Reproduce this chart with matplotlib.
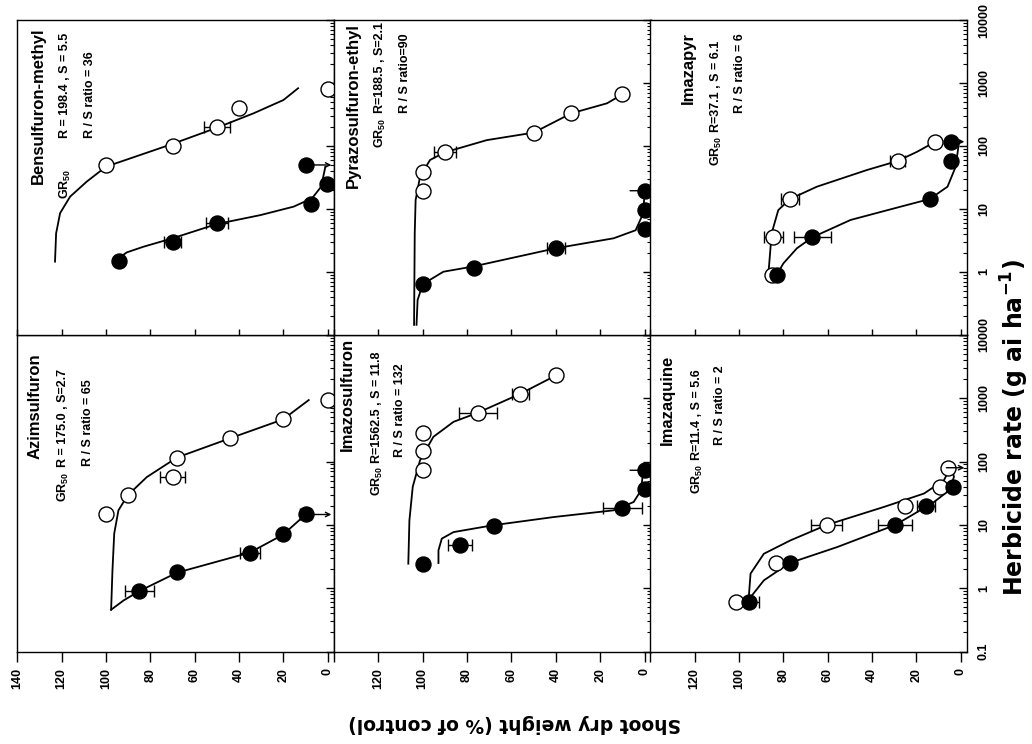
import numpy as np
import matplotlib
matplotlib.use("Agg")
import matplotlib.pyplot as plt
from matplotlib.ticker import LogLocator, NullFormatter, FuncFormatter, FixedLocator

plt.rcParams['font.family'] = ['Liberation Sans', 'DejaVu Sans']
plt.rcParams['font.weight'] = 'bold'
plt.rcParams['mathtext.fontset'] = 'custom'
plt.rcParams['mathtext.rm'] = 'Liberation Sans:bold'
plt.rcParams['mathtext.bf'] = 'Liberation Sans:bold'
plt.rcParams['mathtext.it'] = 'Liberation Sans:bold'
plt.rcParams['mathtext.default'] = 'bf'

# ---------------- data (dose g ai/ha, shoot dry weight % of control) ----------------
herbicides = ["Azimsulfuron", "Bensulfuron-methyl", "Imazosulfuron",
              "Pyrazosulfuron-ethyl", "Imazaquine", "Imazapyr"]
gr50_line1 = ["R = 175.0 , S=2.7", "R = 198.4 , S = 5.5", "R=1562.5 , S = 11.8",
              "R=188.5 , S=2.1", "R=11.4 , S = 5.6", "R=37.1 , S = 6.1"]
gr50_line2 = ["R / S ratio = 65", "R / S ratio = 36", "R / S ratio = 132",
              "R / S ratio=90", "R / S ratio = 2", "R / S ratio = 6"]

# Azimsulfuron
azim_s_dose = [0.9, 1.8, 3.65, 7.3, 14.6]
azim_s_val = [85, 68, 35, 20, 10]
azim_s_err = [6.5, 0, 4.5, 0, 2.5]
azim_r_dose = [14.6, 29.4, 57, 116, 232, 464, 940]
azim_r_val = [100, 90, 70, 68, 44, 20, 0]
azim_r_err = [2, 0, 5.6, 0, 0, 0, 0]
azim_s_fit_dose = [0.457, 0.64, 0.9, 1.76, 3.65, 7.0, 14.6]
azim_s_fit_val = [97.7, 92.1, 85, 68, 35.2, 20.2, 10]
azim_r_fit_dose = [0.457, 1.9, 7.3, 17, 29.4, 57, 116, 232, 464, 938]
azim_r_fit_val = [97.7, 97.1, 96.3, 94.4, 90.2, 81.6, 68, 44.3, 20.2, 8.6]
azim_field_rate = 14.6

# Bensulfuron-methyl
bens_s_dose = [1.5, 3, 6, 12, 25, 50]
bens_s_val = [94, 70, 50, 7.4, 0.5, 10]
bens_s_err = [0, 4, 5, 0, 0, 0]
bens_r_dose = [50, 100, 200, 400, 800]
bens_r_val = [100, 70, 50, 40, 0]
bens_r_err = [0, 2, 6, 0, 0]
bens_s_fit_dose = [1.46, 2.05, 2.52, 3.43, 5.78, 8.0, 10.9, 14.8, 22.6, 47]
bens_s_fit_val = [96.6, 90.6, 83.1, 70, 50, 30.4, 15.4, 7.1, 3.0, 1.1]
bens_r_fit_dose = [1.46, 4.1, 8.6, 15.7, 27.2, 47, 72, 108, 195, 330, 537, 825]
bens_r_fit_val = [123, 122.5, 120.7, 116.2, 108.7, 100, 84.6, 70, 50, 33.5, 20, 13.4]
bens_field_rate = 50

# Imazosulfuron
imzs_s_dose = [2.44, 4.9, 9.6, 18.5, 36.6, 73]
imzs_s_val = [100, 83, 68, 10, 0, 0]
imzs_s_err = [2, 5.4, 0, 8.8, 0, 0]
imzs_r_dose = [75, 148, 288, 577, 1164, 2326]
imzs_r_val = [100, 100, 100, 75, 56, 40]
imzs_r_err = [0, 2, 0, 8.5, 3.8, 0]
imzs_s_fit_dose = [2.5, 3.96, 6.07, 7.7, 9.86, 13.3, 17, 23, 35, 65]
imzs_s_fit_val = [92.9, 92.9, 91.4, 86.1, 68.4, 41, 13.9, 4.9, 1.6, 0.7]
imzs_r_fit_dose = [2.44, 11.8, 40, 105, 246, 425, 589, 1164, 2290]
imzs_r_fit_val = [106.5, 106, 104.5, 101.2, 95.2, 86.1, 75.3, 56.3, 40]
imzs_field_rate = 73

# Pyrazosulfuron-ethyl
pyra_s_dose = [0.64, 1.17, 2.38, 4.8, 9.6, 19.5]
pyra_s_val = [100, 77, 40, 0, 0, 0]
pyra_s_err = [0, 0, 4, 0, 0, 0]
pyra_r_dose = [19.5, 39, 79, 163, 330, 660]
pyra_r_val = [100, 100, 90, 50, 33, 10]
pyra_r_err = [0, 0, 5, 0, 0, 0]
pyra_s_fit_dose = [0.145, 0.36, 0.64, 1.01, 1.22, 2.38, 3.43, 4.6, 8.5, 17.7]
pyra_s_fit_val = [102.8, 102.3, 100, 90.7, 77.4, 40, 13.9, 4, 0.6, 0]
pyra_r_fit_dose = [0.145, 4.1, 13.9, 32.6, 60, 79, 124, 163, 330, 476, 660]
pyra_r_fit_val = [103.9, 103.6, 103.2, 101.2, 96.7, 90.2, 71.1, 50, 33, 16.9, 10]
pyra_field_rate = 19.5

# Imazaquine
imzq_s_dose = [0.6, 2.5, 10, 20, 40]
imzq_s_val = [95.3, 77.2, 29.5, 15.7, 3.6]
imzq_s_err = [4.5, 1.5, 7.7, 4, 0]
imzq_r_dose = [0.6, 2.5, 10, 20, 40, 80]
imzq_r_val = [101.3, 83.4, 60.4, 25, 9.2, 5.7]
imzq_r_err = [0, 0, 7, 0, 0, 0]
imzq_s_fit_dose = [0.72, 1.33, 2.5, 4.47, 10, 16, 23, 35, 57, 82]
imzq_s_fit_val = [94.8, 88.8, 77.2, 55.7, 29.5, 19.6, 12.1, 5.3, 3.1, 4.0]
imzq_r_fit_dose = [0.72, 1.7, 3.5, 5.7, 10, 19.2, 31.3, 50.8, 82]
imzq_r_fit_val = [95.6, 94.8, 88.8, 76.8, 60.4, 34.7, 16.6, 7.6, 4.6]
imzq_field_rate = 80

# Imazapyr
imzp_s_dose = [0.9, 3.56, 14.4, 57.8, 117]
imzp_s_val = [83, 66.9, 14, 4.2, 4.2]
imzp_s_err = [0, 8.3, 1.5, 0, 0]
imzp_r_dose = [0.9, 3.56, 14.4, 57.8, 117]
imzp_r_val = [85.2, 84.5, 77, 28.5, 11.5]
imzp_r_err = [1.5, 4.4, 4, 3.4, 0]
imzp_s_fit_dose = [0.9, 1.37, 2.38, 3.56, 6.7, 10.9, 14.4, 22.6, 47, 117]
imzp_s_fit_val = [83, 80, 73.9, 66.9, 49.7, 27.1, 14, 6, 2.3, 0.8]
imzp_r_fit_dose = [0.9, 1.98, 4.1, 9.6, 14.4, 22.6, 41.6, 57.8, 81, 117]
imzp_r_fit_val = [86.8, 86, 85.3, 82.3, 77, 64.9, 42.3, 28.5, 19.7, 11.5]
imzp_field_rate = 117

weight_ticks = [0, 20, 40, 60, 80, 100, 120, 140]
rate_ticks = [0.1, 1, 10, 100, 1000, 10000]

panels = [
    dict(s=(azim_s_dose, azim_s_val, azim_s_err), r=(azim_r_dose, azim_r_val, azim_r_err),
         sf=(azim_s_fit_dose, azim_s_fit_val), rf=(azim_r_fit_dose, azim_r_fit_val), arrow=azim_field_rate),
    dict(s=(bens_s_dose, bens_s_val, bens_s_err), r=(bens_r_dose, bens_r_val, bens_r_err),
         sf=(bens_s_fit_dose, bens_s_fit_val), rf=(bens_r_fit_dose, bens_r_fit_val), arrow=bens_field_rate),
    dict(s=(imzs_s_dose, imzs_s_val, imzs_s_err), r=(imzs_r_dose, imzs_r_val, imzs_r_err),
         sf=(imzs_s_fit_dose, imzs_s_fit_val), rf=(imzs_r_fit_dose, imzs_r_fit_val), arrow=imzs_field_rate),
    dict(s=(pyra_s_dose, pyra_s_val, pyra_s_err), r=(pyra_r_dose, pyra_r_val, pyra_r_err),
         sf=(pyra_s_fit_dose, pyra_s_fit_val), rf=(pyra_r_fit_dose, pyra_r_fit_val), arrow=pyra_field_rate),
    dict(s=(imzq_s_dose, imzq_s_val, imzq_s_err), r=(imzq_r_dose, imzq_r_val, imzq_r_err),
         sf=(imzq_s_fit_dose, imzq_s_fit_val), rf=(imzq_r_fit_dose, imzq_r_fit_val), arrow=imzq_field_rate),
    dict(s=(imzp_s_dose, imzp_s_val, imzp_s_err), r=(imzp_r_dose, imzp_r_val, imzp_r_err),
         sf=(imzp_s_fit_dose, imzp_s_fit_val), rf=(imzp_r_fit_dose, imzp_r_fit_val), arrow=imzp_field_rate),
]

# ---------------- layout (the published figure is rotated 90 degrees) ----------------
W, H = 1032, 744
fig = plt.figure(figsize=(W / 100, H / 100), dpi=100)

def fx(x):
    return x / W

def fy(y):
    return 1 - y / H

col_left = [17.3, 334.0, 650.3]
col_w = 316.5
row_top = [20.0, 335.0]
row_bot = [335.0, 651.5]
# (row, col) in the rotated page for each herbicide
cells = [(1, 0), (0, 0), (1, 1), (0, 1), (1, 2), (0, 2)]
# text positions in pixels: title (x, top), GR (x, bottom), line1 (x, bottom), line2 (x, bottom)
text_pos = [
    ((35, 353), (63, 502), (63, 467), (88, 466)),
    ((38, 28), (65, 199), (65, 138), (90, 138)),
    ((347, 338), (377, 496), (377, 463), (400, 457)),
    ((353, 23), (380, 148), (380, 113), (405, 113)),
    ((667, 355), (697, 494), (697, 460), (720, 445)),
    ((688, 32), (716, 166), (716, 132), (740, 113)),
]

for i, p in enumerate(panels):
    row, col = cells[i]
    ax = fig.add_axes([fx(col_left[col]), fy(row_bot[row]), col_w / W,
                       (row_bot[row] - row_top[row]) / H])
    ax.set_yscale('log')
    ax.set_xlim(140, -2.7)
    ax.set_ylim(0.1, 10000)

    # fitted curves
    ax.plot(p['rf'][1], p['rf'][0], color='black', lw=1.3, zorder=2)
    ax.plot(p['sf'][1], p['sf'][0], color='black', lw=1.3, zorder=2)

    # error bars
    for (d, v, e) in (p['r'], p['s']):
        d, v, e = np.array(d, float), np.array(v, float), np.array(e, float)
        m = e > 0
        if m.any():
            ax.errorbar(v[m], d[m], xerr=e[m], fmt='none', ecolor='black',
                        elinewidth=1.0, capsize=4, capthick=1.0, zorder=3)
    # resistant (open) and susceptible (filled)
    ax.plot(p['r'][1], p['r'][0], 'o', ms=10.8, mfc='white', mec='black', mew=1.0,
            ls='none', zorder=4)
    ax.plot(p['s'][1], p['s'][0], 'o', ms=10.8, mfc='black', mec='black', mew=1.0,
            ls='none', zorder=5)

    # field-rate arrow
    ax.annotate('', xy=(-1.6, p['arrow']), xytext=(6.5, p['arrow']),
                arrowprops=dict(arrowstyle='->', color='black', lw=1.0,
                                shrinkA=0, shrinkB=0, mutation_scale=8), zorder=6)

    # spines / ticks
    for s in ax.spines.values():
        s.set_linewidth(1.0)
    ax.xaxis.set_major_locator(FixedLocator(weight_ticks))
    if row == 1:
        ax.tick_params(axis='x', which='major', direction='out', length=7, width=1.0,
                       labelsize=9, labelrotation=90, pad=5, top=False)
        if col == 0:
            ax.set_xticklabels([str(t) for t in weight_ticks])
        else:
            ax.set_xticklabels([str(t) if t < 140 else '' for t in weight_ticks])
    else:
        ax.tick_params(axis='x', which='major', direction='in', length=4, width=1.0,
                       labelbottom=False, top=False)

    ax.yaxis.tick_right()
    ax.yaxis.set_major_locator(FixedLocator(rate_ticks))
    ax.yaxis.set_minor_locator(LogLocator(base=10, subs=np.arange(2, 10), numticks=20))
    ax.yaxis.set_minor_formatter(NullFormatter())
    ax.tick_params(axis='y', which='major', direction='in', length=6, width=1.0,
                   left=False, right=True)
    ax.tick_params(axis='y', which='minor', direction='in', length=3, width=0.8,
                   left=False, right=True)
    if col == 2:
        if row == 0:
            fmt = FuncFormatter(lambda v, pos: '' if v < 0.5 else ('%g' % v))
        else:
            fmt = FuncFormatter(lambda v, pos: '%g' % v)
        ax.yaxis.set_major_formatter(fmt)
        ax.tick_params(axis='y', which='major', labelright=True, labelsize=9,
                       labelrotation=90, pad=8)
        for lbl in ax.get_yticklabels():
            lbl.set_va('center')
    else:
        ax.tick_params(axis='y', which='major', labelright=False, labelleft=False)

    # panel texts
    tp = text_pos[i]
    fig.text(fx(tp[0][0]), fy(tp[0][1]), herbicides[i], rotation=90, ha='center', va='top',
             fontsize=12, fontweight='bold')
    fig.text(fx(tp[1][0]), fy(tp[1][1]), r'GR$_{50}$', rotation=90, ha='center', va='bottom',
             fontsize=9, fontweight='bold')
    fig.text(fx(tp[2][0]), fy(tp[2][1]), gr50_line1[i], rotation=90, ha='center', va='bottom',
             fontsize=9, fontweight='bold')
    fig.text(fx(tp[3][0]), fy(tp[3][1]), gr50_line2[i], rotation=90, ha='center', va='bottom',
             fontsize=9, fontweight='bold')

fig.text(fx(515), fy(724), 'Shoot dry weight (% of control)', rotation=180,
         ha='center', va='center', fontsize=13.5, fontweight='bold',
         family=['DejaVu Sans'])
fig.text(fx(1015), fy(428), r'Herbicide rate (g ai ha$^{\mathsf{-1}}$)', rotation=90,
         ha='center', va='center', fontsize=17, fontweight='bold',
         family=['DejaVu Sans'], math_fontfamily='dejavusans')

fig.savefig('out.png', dpi=100)
